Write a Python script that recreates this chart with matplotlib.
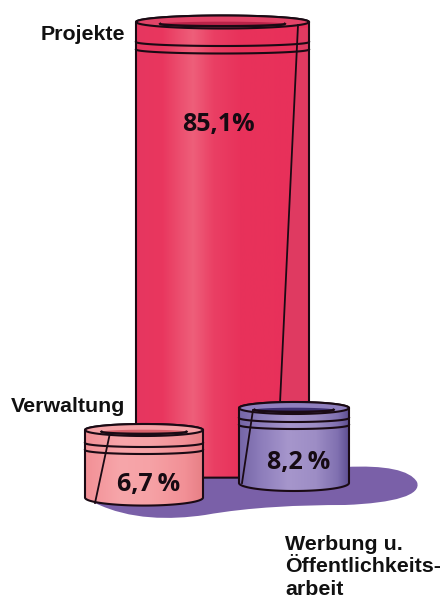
import numpy as np
import matplotlib
matplotlib.use('Agg')
import matplotlib.pyplot as plt
from matplotlib.colors import LinearSegmentedColormap
from matplotlib.patches import PathPatch
from matplotlib.path import Path

# Anteile in Prozent
categories = ['Projekte', 'Verwaltung', 'Werbung u.\nÖffentlichkeits-\narbeit']
shares = [85.1, 6.7, 8.2]
share_labels = ['85,1%', '6,7\u2009%', '8,2\u2009%']

LINE = '#1a0a14'

# Zylinderhoehe folgt dem Wert (Bild ist nicht ganz massstaeblich)
def cyl_height(v):
    return 34.4 + 4.95 * v

fig = plt.figure(figsize=(4.43, 5.98), dpi=100)
ax = fig.add_axes([0, 0, 1, 1])


def arc(cx, cy, rx, ry, a0, a1, n=60):
    t = np.radians(np.linspace(a0, a1, n))
    return cx + rx * np.cos(t), cy + ry * np.sin(t)


def cylinder(cx, top, rx, ry, h, cols, lid, inner, band1, band2, stripe, z, flat=False):
    bottom = top + h
    # Koerper, y-Achse zeigt nach unten: sin>0 = unterer Bogen
    xu, yu = arc(cx, top, rx, ry, 180, 360)
    if flat:
        xs = np.array([cx + rx, cx - rx])
        ys = np.array([bottom, bottom])
    else:
        xs, ys = arc(cx, bottom, rx, ry + 2, 0, 180)
    verts = np.c_[np.r_[xu, xs], np.r_[yu, ys]]
    verts = np.r_[verts, verts[:1]]
    ax.add_patch(PathPatch(Path(verts), fc='none', ec=LINE, lw=1.5, zorder=z + 2))
    cmap = LinearSegmentedColormap.from_list('c', cols)
    grad = np.linspace(0, 1, 256).reshape(1, -1)
    im = ax.imshow(grad, cmap=cmap, extent=[cx - rx, cx + rx, bottom + ry + 3, top - ry], aspect='auto', zorder=z)
    clip = PathPatch(Path(verts), transform=ax.transData, fc='none', ec='none')
    ax.add_patch(clip)
    im.set_clip_path(clip)

    # Oeffnung oben
    x1, y1 = arc(cx, top, rx, ry, 0, 360)
    ax.fill(x1, y1, fc=lid, ec=LINE, lw=1.5, zorder=z + 3)
    # innerer dunkler Rand
    x3, y3 = arc(cx, top + ry * 0.3, rx * 0.72, ry * 0.35, 0, 360)
    ax.fill(x3, y3, fc=inner, ec='none', zorder=z + 3)
    x2, y2 = arc(cx, top + ry * 0.3, rx * 0.72, ry * 0.35, 0, 180)
    ax.plot(x2, y2, color=LINE, lw=1.8, zorder=z + 4)

    # Ringe
    for b in (band1, band2):
        xb, yb = arc(cx, b, rx, 4, 0, 180)
        ax.plot(xb, yb, color=LINE, lw=1.5, zorder=z + 3)

    # Schraege Linie
    ax.plot(stripe[0], stripe[1], color=LINE, lw=1.3, zorder=z + 3)


# Schatten
shadow = [(95, 503), (130, 520), (170, 520), (205, 515),
          (250, 507), (300, 505), (345, 505),
          (395, 503), (422, 495), (417, 482),
          (410, 470), (385, 465), (345, 467),
          (300, 470), (150, 470), (95, 503)]
codes = [Path.MOVETO] + [Path.CURVE4] * 15
ax.add_patch(PathPatch(Path(shadow, codes), fc='#7a60a8', ec='none', zorder=1))

# Projekte
reds = [(0, '#e63760'), (0.15, '#e9365e'), (0.26, '#ec5070'), (0.33, '#ee5f7a'), (0.45, '#ea3f64'),
        (0.6, '#e8325b'), (1, '#e8305a')]
cylinder(222.5, 22, 86.5, 6.5, cyl_height(shares[0]), reds, '#e24468', '#bb2349',
         42, 49.5, ([298, 280], [25, 403]), 2, flat=True)
# dunkler Streifen rechts
xr = np.array([298, 280, 309, 309])
yr = np.array([28, 403, 403, 28])
ax.fill(xr, yr, color='#df3a61', zorder=2.5, lw=0)

# Verwaltung
pinks = [(0, '#f29096'), (0.3, '#f7a6aa'), (0.55, '#f6a2a6'), (0.85, '#f29096'), (1, '#e77f86')]
cylinder(144, 430, 59, 6, cyl_height(shares[1]), pinks, '#f5a3a7', '#d8626c',
         443, 450, ([110, 95], [433, 503]), 6)

# Werbung
violets = [(0, '#7565a6'), (0.2, '#8d7dbb'), (0.45, '#a696cc'), (0.7, '#9d8dc5'), (0.9, '#8070b0'), (1, '#5f4f92')]
cylinder(294, 408, 55, 6, cyl_height(shares[2]), violets, '#8f7fbe', '#3d2f70',
         418, 425, ([253, 242], [410, 483]), 6)

# Beschriftung Kategorien
lab_font = dict(family=['Liberation Sans', 'DejaVu Sans'], fontweight='bold', color='#111111', fontsize=15.4)
ax.text(41, 35, categories[0], ha='left', va='center', zorder=20, **lab_font)
ax.text(11, 407, categories[1], ha='left', va='center', zorder=20, **lab_font)
ax.text(285, 567, categories[2], ha='left', va='center', linespacing=1.25, zorder=20, **lab_font)

# Werte
val_font = dict(family=['Open Sans', 'DejaVu Sans'], fontweight='bold', color='#160a12', fontsize=18)
ax.text(218, 124, share_labels[0], ha='center', va='center', zorder=20, **val_font)
ax.text(149, 485, share_labels[1], ha='center', va='center', zorder=20, **val_font)
ax.text(299, 462, share_labels[2], ha='center', va='center', zorder=20, **val_font)

ax.set_xlim(0, 443)
ax.set_ylim(598, 0)
ax.axis('off')
fig.savefig('out.png', dpi=100)
